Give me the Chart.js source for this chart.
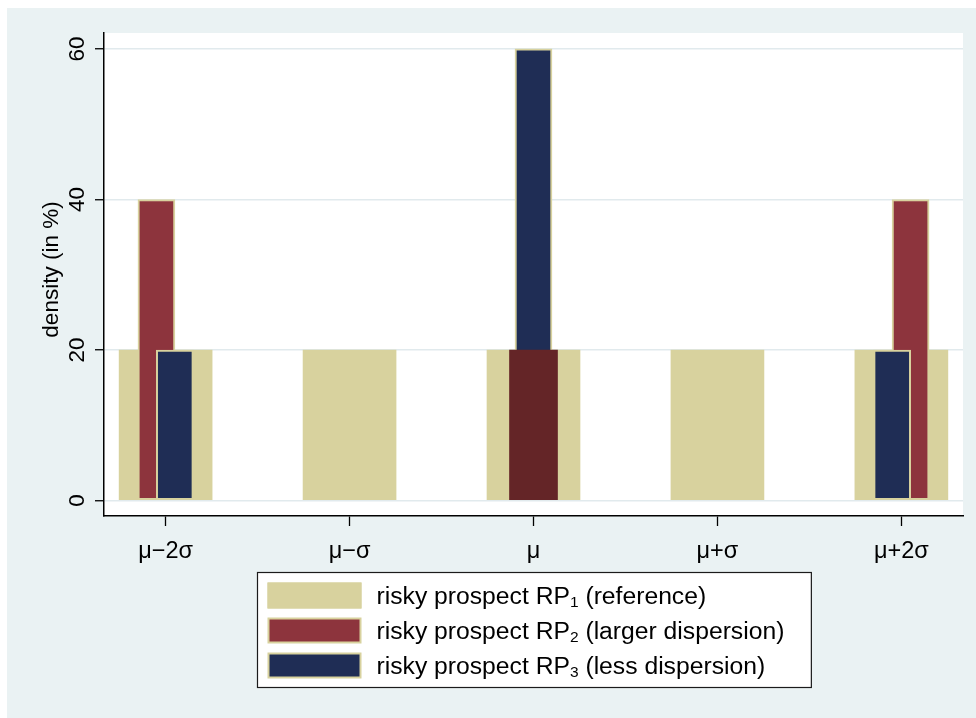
<!DOCTYPE html>
<html>
<head>
<meta charset="utf-8">
<script src="https://cdn.jsdelivr.net/npm/chart.js@4.4.1/dist/chart.umd.min.js"></script>
<style>
  html, body { margin: 0; padding: 0; background: #fff; }
  #wrap { width: 976px; height: 718px; }
  canvas { display: block; }
</style>
</head>
<body>
<div id="wrap"><canvas id="chart" width="976" height="718"></canvas></div>
<script>
// Outcomes of three risky prospects, in units of sigma around the mean
const categories = ['μ−2σ', 'μ−σ', 'μ', 'μ+σ', 'μ+2σ'];
const positions = [-2, -1, 0, 1, 2];
const yTicks = [0, 20, 40, 60];

// density (in %) of each outcome
const rp1 = [20, 20, 20, 20, 20];
const rp2 = [40, 0, 20, 0, 40];
const rp3 = [20, 0, 60, 0, 20];

const seriesNames = [
  'risky prospect RP₁ (reference)',
  'risky prospect RP₂ (larger dispersion)',
  'risky prospect RP₃ (less dispersion)'
];

// colours
const PANEL = '#EAF2F3';
const GRID = '#E1EAED';
const SAND = '#D8D29E';
const MAROON = '#8D343D';
const NAVY = '#1F2D55';
const DEEP_RED = '#642527';
const FONT = '"Liberation Sans", Arial, Helvetica, sans-serif';

// narrow bars are nudged sideways so that overlapping outcomes stay visible
const NUDGE = 0.05;
const sign = v => (v > 0 ? 1 : v < 0 ? -1 : 0);

function toPoints(values, keep, side) {
  const out = [];
  values.forEach((v, i) => {
    if (v && keep(i)) out.push({ x: positions[i] + side(i) * NUDGE, y: v });
  });
  return out;
}

const datasets = [
  {
    label: seriesNames[0], inLegend: true,
    data: toPoints(rp1, () => true, () => 0),
    backgroundColor: SAND, borderColor: SAND, borderWidth: 0,
    barThickness: 93, order: 4
  },
  {
    label: seriesNames[1], inLegend: true,
    data: toPoints(rp2, i => positions[i] !== 0, i => sign(positions[i])),
    backgroundColor: MAROON, borderColor: SAND, borderWidth: 2, borderSkipped: false,
    barThickness: 37, order: 3
  },
  {
    label: seriesNames[2], inLegend: true,
    data: toPoints(rp3, () => true, i => -sign(positions[i])),
    backgroundColor: NAVY, borderColor: SAND, borderWidth: 2, borderSkipped: false,
    barThickness: 37, order: 2
  },
  {
    label: seriesNames[1] + ' – centre', inLegend: false,
    data: toPoints(rp2, i => positions[i] === 0, () => 0),
    backgroundColor: DEEP_RED, borderWidth: 0,
    barThickness: 48, order: 1
  }
];

// panel background and white plot region
const panelPlugin = {
  id: 'panel',
  beforeDraw(chart) {
    const { ctx, chartArea: a, width, height } = chart;
    ctx.save();
    ctx.fillStyle = '#fff';
    ctx.fillRect(0, 0, width, height);
    ctx.fillStyle = PANEL;
    ctx.fillRect(7, 8, width - 7, height - 8);
    ctx.fillStyle = '#fff';
    ctx.fillRect(a.left, a.top, a.right - a.left, a.bottom - a.top);
    ctx.restore();
  }
};

// vertical tick labels and axis title on the y axis
const yLabelPlugin = {
  id: 'yLabels',
  afterDraw(chart) {
    const { ctx, chartArea: a } = chart;
    const ys = chart.scales.y;
    ctx.save();
    ctx.fillStyle = '#000';
    ctx.textAlign = 'center';
    ctx.textBaseline = 'alphabetic';
    ctx.font = '22.5px ' + FONT;
    ys.ticks.forEach(t => {
      const py = ys.getPixelForValue(t.value);
      ctx.save();
      ctx.translate(a.left - 20.5, py);
      ctx.rotate(-Math.PI / 2);
      ctx.fillText(t.label != null ? String(t.label) : String(t.value), 0, 0);
      ctx.restore();
    });
    ctx.translate(a.left - 46, (a.top + a.bottom) / 2 - 5);
    ctx.rotate(-Math.PI / 2);
    ctx.fillText('density (in %)', 0, 0);
    ctx.restore();
  }
};

// legend: framed box under the plot, one series per row
const SUBS = '₀₁₂₃₄₅₆₇₈₉';
function splitSub(text) {
  const parts = [];
  for (const ch of text) {
    const k = SUBS.indexOf(ch);
    const sub = k >= 0;
    const c = sub ? String(k) : ch;
    const last = parts[parts.length - 1];
    if (last && last.sub === sub) last.t += c; else parts.push({ t: c, sub });
  }
  return parts;
}

const legendPlugin = {
  id: 'boxLegend',
  afterDraw(chart) {
    const { ctx, chartArea: a } = chart;
    const items = chart.data.datasets.filter(d => d.inLegend);
    const fs = 24.7, subFs = 15.5;
    const mainFont = fs + 'px ' + FONT, subFont = subFs + 'px ' + FONT;
    ctx.save();
    const widthOf = parts => parts.reduce((w, p) => {
      ctx.font = p.sub ? subFont : mainFont;
      return w + ctx.measureText(p.t).width;
    }, 0);
    const rows = items.map(d => splitSub(d.label));
    const maxW = Math.max(...rows.map(widthOf));
    const padL = 10, sw = 94, sh = 26, gap = 15, padR = 27, pitch = 35, padT = 10, padB = 9;
    const boxW = padL + sw + gap + maxW + padR;
    const boxH = padT + (items.length - 1) * pitch + sh + padB;
    const left = Math.round((a.left + a.right) / 2 - boxW / 2) + 0.5;
    const top = a.bottom + 56 + 0.5;

    ctx.fillStyle = '#fff';
    ctx.fillRect(left, top, boxW, boxH);
    ctx.strokeStyle = '#1b1b1b';
    ctx.lineWidth = 1.2;
    ctx.strokeRect(left, top, boxW, boxH);

    items.forEach((d, i) => {
      const sx = left + padL, sy = top + padT + i * pitch;
      const bw = d.borderWidth || 0;
      ctx.fillStyle = d.borderColor || d.backgroundColor;
      ctx.fillRect(sx, sy, sw, sh);
      ctx.fillStyle = d.backgroundColor;
      ctx.fillRect(sx + bw, sy + bw, sw - 2 * bw, sh - 2 * bw);

      const base = sy + sh / 2 + 8.8;
      let tx = sx + sw + gap;
      ctx.fillStyle = '#000';
      ctx.textAlign = 'left';
      ctx.textBaseline = 'alphabetic';
      rows[i].forEach(p => {
        ctx.font = p.sub ? subFont : mainFont;
        ctx.fillText(p.t, tx, p.sub ? base + 3 : base);
        tx += ctx.measureText(p.t).width;
      });
    });
    ctx.restore();
  }
};

new Chart(document.getElementById('chart'), {
  type: 'bar',
  data: { datasets },
  options: {
    responsive: false,
    devicePixelRatio: 1,
    animation: false,
    layout: { padding: { top: 33, right: 13, left: 0, bottom: 0 } },
    plugins: { legend: { display: false }, tooltip: { enabled: false } },
    scales: {
      x: {
        type: 'linear',
        stacked: true,
        offset: false,
        min: -2.335,
        max: 2.335,
        bounds: 'data',
        afterBuildTicks: s => { s.ticks = positions.map(v => ({ value: v })); },
        afterFit: s => { s.height = 202; },
        grid: {
          offset: false, drawOnChartArea: false, drawTicks: true,
          tickLength: 10, tickColor: '#000', tickWidth: 1.3
        },
        border: { display: true, color: '#000', width: 1.5 },
        ticks: {
          autoSkip: false, maxRotation: 0, minRotation: 0,
          color: '#000', padding: 11,
          font: { family: FONT, size: 23.5 },
          callback: v => categories[positions.indexOf(Math.round(v))] ?? ''
        }
      },
      y: {
        type: 'linear',
        stacked: false,
        min: -2.06,
        max: 62.12,
        afterBuildTicks: s => { s.ticks = yTicks.map(v => ({ value: v })); },
        afterFit: s => { s.width = 104; },
        grid: {
          color: GRID, lineWidth: 1.5, drawTicks: true,
          tickLength: 9, tickColor: '#000', tickWidth: 1.3
        },
        border: { display: true, color: '#000', width: 1.5 },
        ticks: { display: false }
      }
    }
  },
  plugins: [panelPlugin, yLabelPlugin, legendPlugin]
});
</script>
</body>
</html>
